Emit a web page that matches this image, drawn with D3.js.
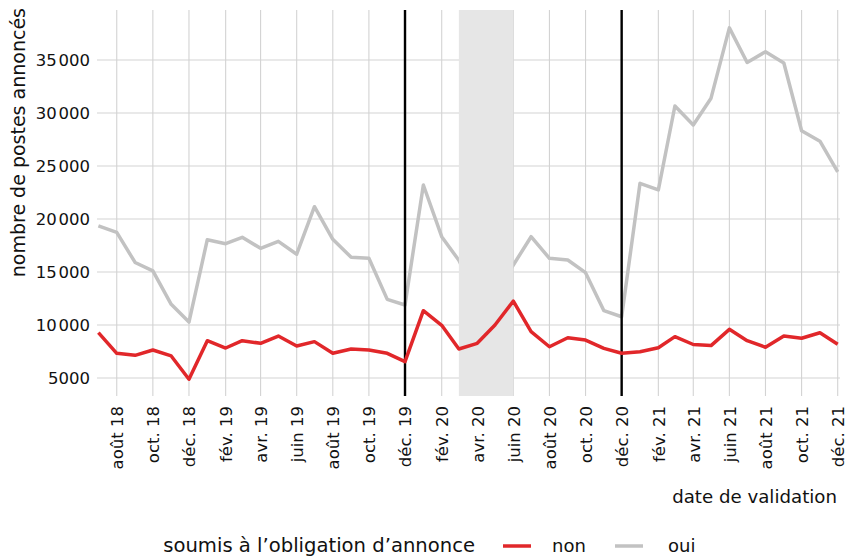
<!DOCTYPE html>
<html lang="fr">
<head>
<meta charset="utf-8">
<script src="https://cdn.jsdelivr.net/npm/d3@7"></script>
<style>
  html, body { margin: 0; padding: 0; background: #fff; }
  svg { display: block; font-family: "DejaVu Sans", "Inter", sans-serif; }
</style>
</head>
<body>
<svg id="chart" width="848" height="558"></svg>
<script>
// Monthly series, July 2018 to December 2021
const months = [
  "2018-07","2018-08","2018-09","2018-10","2018-11","2018-12",
  "2019-01","2019-02","2019-03","2019-04","2019-05","2019-06",
  "2019-07","2019-08","2019-09","2019-10","2019-11","2019-12",
  "2020-01","2020-02","2020-03","2020-04","2020-05","2020-06",
  "2020-07","2020-08","2020-09","2020-10","2020-11","2020-12",
  "2021-01","2021-02","2021-03","2021-04","2021-05","2021-06",
  "2021-07","2021-08","2021-09","2021-10","2021-11","2021-12"
];
// Positions not subject to the announcement obligation
const nonValues = [
  9280, 7330, 7140, 7640, 7080, 4880,
  8520, 7830, 8520, 8270, 8960, 8020,
  8430, 7330, 7740, 7640, 7330, 6540,
  11350, 9970, 7740, 8270, 10000, 12260,
  9370, 7950, 8800, 8580, 7800, 7330,
  7480, 7860, 8900, 8160, 8060, 9590,
  8520, 7900, 8960, 8750, 9270, 8180
];
// Positions subject to the announcement obligation
const ouiValues = [
  19350, 18740, 15900, 15100, 11950, 10280,
  18050, 17670, 18270, 17230, 17890, 16680,
  21160, 18080, 16390, 16290, 12420, 11890,
  23210, 18330, 16100, 12500, 13000, 15660,
  18330, 16290, 16130, 14940, 11350, 10780,
  23370, 22740, 30660, 28870, 31400, 38030,
  34760, 35780, 34720, 28320, 27340, 24450
];
const seriesNames = ["non", "oui"];
const tickMonths = [
  "2018-08","2018-10","2018-12","2019-02","2019-04","2019-06","2019-08",
  "2019-10","2019-12","2020-02","2020-04","2020-06","2020-08","2020-10",
  "2020-12","2021-02","2021-04","2021-06","2021-08","2021-10","2021-12"
];
const tickLabels = [
  "août 18","oct. 18","déc. 18","fév. 19","avr. 19","juin 19","août 19",
  "oct. 19","déc. 19","fév. 20","avr. 20","juin 20","août 20","oct. 20",
  "déc. 20","fév. 21","avr. 21","juin 21","août 21","oct. 21","déc. 21"
];
const yTicks = [5000, 10000, 15000, 20000, 25000, 30000, 35000];
// Marked dates and the shaded lockdown period
const markerMonths = ["2019-12", "2020-12"];
const shadedPeriod = ["2020-03", "2020-06"];

const parse = d3.timeParse("%Y-%m");
const dates = months.map(parse);

const svg = d3.select("#chart");
const panel = { left: 97, right: 840, top: 10, bottom: 396 };

const x = d3.scaleTime()
  .domain([parse("2018-07"), parse("2021-12")])
  .range([98.4, 837.7]);
const y = d3.scaleLinear()
  .domain([5000, 35000])
  .range([378, 60]);

const red = "#e1272a";
const grey = "#c2c2c2";
const gridColor = "#d3d3d3";
const ink = "#111";

// horizontal grid
svg.append("g")
  .selectAll("line")
  .data(yTicks)
  .join("line")
  .attr("x1", panel.left).attr("x2", panel.right)
  .attr("y1", d => y(d)).attr("y2", d => y(d))
  .attr("stroke", gridColor).attr("stroke-width", 1.1);

// vertical grid at tick months
svg.append("g")
  .selectAll("line")
  .data(tickMonths.map(parse))
  .join("line")
  .attr("x1", d => x(d)).attr("x2", d => x(d))
  .attr("y1", panel.top).attr("y2", panel.bottom)
  .attr("stroke", gridColor).attr("stroke-width", 1.1);

const line = d3.line()
  .x((d, i) => x(dates[i]))
  .y(d => y(d));

// "oui" series
svg.append("path")
  .datum(ouiValues)
  .attr("d", line)
  .attr("fill", "none")
  .attr("stroke", grey)
  .attr("stroke-width", 3.5)
  .attr("stroke-linejoin", "round");

// shaded period
svg.append("rect")
  .attr("x", x(parse(shadedPeriod[0])))
  .attr("width", x(parse(shadedPeriod[1])) - x(parse(shadedPeriod[0])))
  .attr("y", panel.top)
  .attr("height", panel.bottom - panel.top)
  .attr("fill", "#e6e6e6");

// marker lines
svg.append("g")
  .selectAll("line")
  .data(markerMonths.map(parse))
  .join("line")
  .attr("x1", d => x(d)).attr("x2", d => x(d))
  .attr("y1", panel.top).attr("y2", panel.bottom)
  .attr("stroke", "#000").attr("stroke-width", 2.4);

// "non" series
svg.append("path")
  .datum(nonValues)
  .attr("d", line)
  .attr("fill", "none")
  .attr("stroke", red)
  .attr("stroke-width", 3.5)
  .attr("stroke-linejoin", "round");

// y axis, thousands split by a hair space
const fmt = d => {
  const s = String(d);
  return s.length > 4 ? s.slice(0, s.length - 3) + "\u200A" + s.slice(-3) : s;
};
const yAxis = svg.append("g")
  .attr("transform", `translate(${panel.left - 7},0)`)
  .call(d3.axisLeft(y).tickValues(yTicks).tickFormat(fmt).tickSize(0).tickPadding(0));
yAxis.select(".domain").remove();
yAxis.selectAll("text")
  .attr("fill", ink)
  .style("font-size", "16.5px")
  .style("font-family", "DejaVu Sans")
  .attr("dy", "0.36em");

// x axis
const xAxis = svg.append("g")
  .attr("transform", `translate(0,${panel.bottom})`)
  .call(d3.axisBottom(x)
    .tickValues(tickMonths.map(parse))
    .tickFormat((d, i) => tickLabels[i])
    .tickSize(0));
xAxis.select(".domain").remove();
xAxis.selectAll("text")
  .attr("fill", ink)
  .style("font-size", "16.5px")
  .style("font-family", "DejaVu Sans")
  .attr("text-anchor", "end")
  .attr("transform", "rotate(-90)")
  .attr("x", -10)
  .attr("y", 0)
  .attr("dy", "0.36em");

// axis titles
svg.append("text")
  .attr("transform", `translate(25,${panel.top - 2}) rotate(-90)`)
  .attr("text-anchor", "end")
  .attr("fill", ink)
  .style("font-size", "19px")
  .text("nombre de postes annoncés");

svg.append("text")
  .attr("x", 837)
  .attr("y", 503)
  .attr("text-anchor", "end")
  .attr("fill", ink)
  .style("font-size", "18.2px")
  .text("date de validation");

// legend
const legend = svg.append("g");
legend.append("text")
  .attr("x", 475).attr("y", 552)
  .attr("text-anchor", "end")
  .attr("fill", ink)
  .style("font-size", "19.6px")
  .text("soumis à l’obligation d’annonce");
const keys = [
  { name: seriesNames[0], color: red, x0: 503, tx: 552 },
  { name: seriesNames[1], color: grey, x0: 615, tx: 668 }
];
keys.forEach(k => {
  legend.append("line")
    .attr("x1", k.x0).attr("x2", k.x0 + 28)
    .attr("y1", 546).attr("y2", 546)
    .attr("stroke", k.color).attr("stroke-width", 3.5);
  legend.append("text")
    .attr("x", k.tx).attr("y", 552)
    .attr("fill", ink)
    .style("font-size", "18px")
    .text(k.name);
});
</script>
</body>
</html>
